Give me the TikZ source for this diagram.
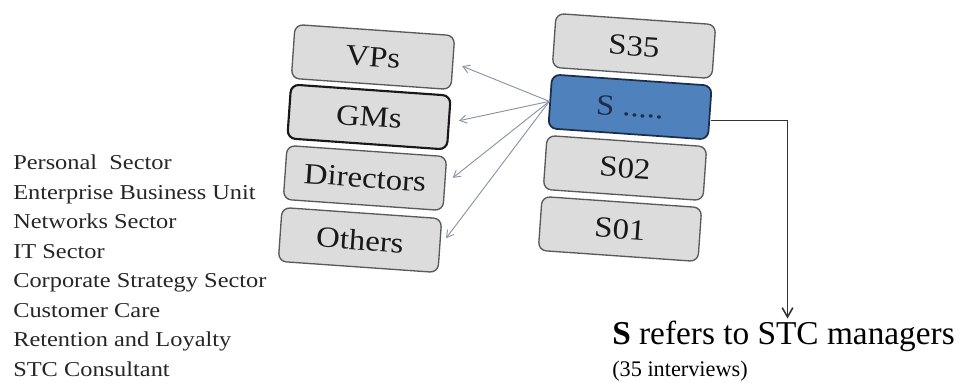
\documentclass[tikz,border=0pt]{standalone}
\usepackage{fontspec}
\setmainfont{Liberation Serif}
\usepackage{xcolor}
\usetikzlibrary{arrows.meta}
\definecolor{boxgrey}{HTML}{DCDCDC}
\definecolor{edgegrey}{HTML}{5A5A5A}
\definecolor{sblue}{HTML}{4F81BD}
\definecolor{snavy}{HTML}{1C2E4A}
\definecolor{linkgrey}{HTML}{8A94A6}
\newcommand{\wide}[2][1.12]{\scalebox{#1}[1]{#2}}
\tikzset{
  level/.style={draw=edgegrey, fill=boxgrey, line width=1pt, rounded corners=6pt,
    rotate=-4, minimum width=120pt, minimum height=40.5pt, inner sep=0pt,
    text=black!90, font=\fontsize{22}{24}\selectfont},
  sector/.style={anchor=base west, inner sep=0pt, text=black!85,
    font=\fontsize{15.9}{18}\selectfont},
  link/.style={draw=linkgrey, line width=0.7pt, shorten >=7pt,
    -{Straight Barb[length=5pt,width=6pt]}}
}

\begin{document}
\begin{tikzpicture}[x=0.75pt, y=-0.75pt]
  \useasboundingbox (0,0) rectangle (961,388);
  % management levels
  \node[level] (vps) at (373,57) {\wide{VPs}};
  \node[level, draw=black!90, line width=1.6pt] (gms) at (369,117) {\wide{GMs}};
  \node[level] (dirs) at (365,178) {\wide{Directors}};
  \node[level] (others) at (360,240) {\wide{Others}};
  % interviewed managers
  \node[level] (s35) at (634,46) {\wide{S35}};
  \node[level, fill=sblue, draw=snavy, line width=1.3pt, text=snavy] (sdots) at (630,107) {\wide{S .....}};
  \node[level] (s02) at (625,168) {\wide{S02}};
  \node[level] (s01) at (620,229) {\wide{S01}};
  % sectors
  \foreach \sector [count=\i] in {Personal\ \ Sector, Enterprise Business Unit,
      Networks Sector, IT Sector, Corporate Strategy Sector, Customer Care,
      Retention and Loyalty, STC Consultant}
    \node[sector] (sec\i) at (13,{170+29.5*(\i-1)}) {\wide[1.15]{\sector}};
  % note
  \node[anchor=base west, inner sep=0pt, font=\fontsize{25}{28}\selectfont] (note) at (612,345)
    {\textbf{S} refers to STC managers};
  \node[anchor=base west, inner sep=0pt, font=\fontsize{16.7}{19}\selectfont] (count) at (612,377)
    {(35 interviews)};
  \foreach \target in {vps, gms, dirs, others}
    \draw[link] (sdots.west) -- (\target.east);
  \draw[black!80, line width=1.2pt, shorten >=2pt, -{Straight Barb[length=7pt,width=8pt]}]
    ([yshift=-6pt]sdots.east) -| ([xshift=3pt]note.north);
\end{tikzpicture}
\end{document}
